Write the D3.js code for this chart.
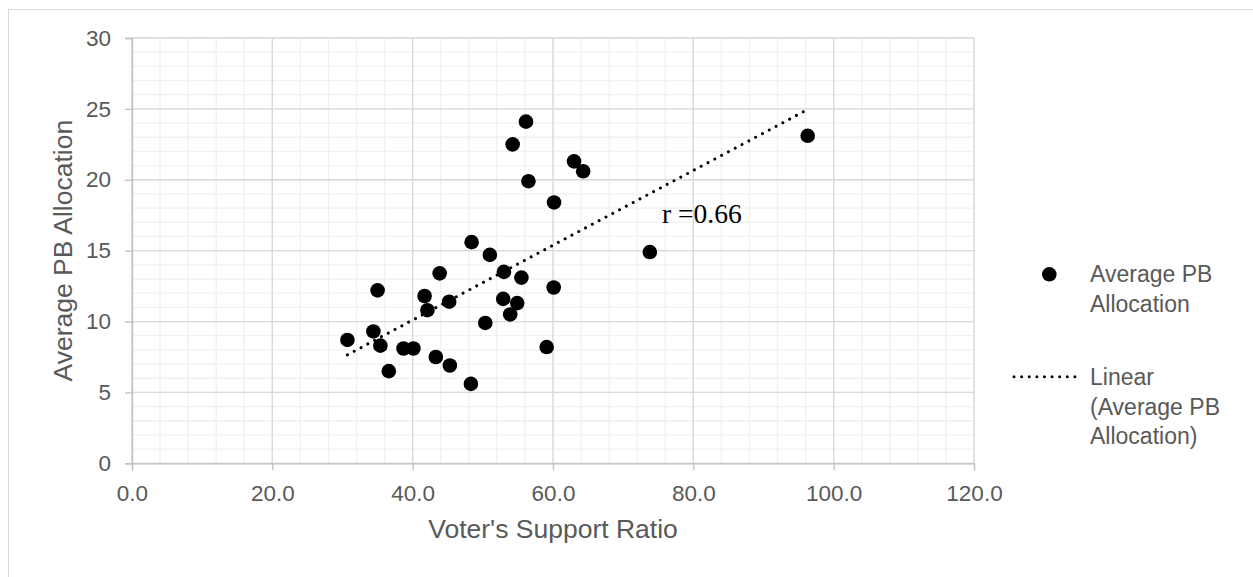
<!DOCTYPE html>
<html>
<head>
<meta charset="utf-8">
<script src="https://cdn.jsdelivr.net/npm/d3@7"></script>
<style>
  body { margin: 0; background: #fff; }
  text { font-family: "Liberation Sans", Arial, sans-serif; }
</style>
</head>
<body>
<div id="chart"></div>
<script>
// voter's support ratio (x) and average PB allocation (y)
const supportRatio = [48.4, 51.0, 53.0, 55.5, 43.85, 35.0, 60.1, 41.7, 45.2, 52.9, 54.9, 42.1,
    53.9, 50.35, 34.4, 30.7, 35.4, 38.7, 40.1, 59.1, 43.3, 45.3, 36.6, 48.3,
    56.15, 54.25, 56.5, 63.0, 64.3, 60.15, 96.3, 73.8];
const pbAllocation = [15.6, 14.7, 13.5, 13.1, 13.4, 12.2, 12.4, 11.8, 11.4, 11.6, 11.3, 10.8,
    10.5, 9.9, 9.3, 8.7, 8.3, 8.1, 8.1, 8.2, 7.5, 6.9, 6.5, 5.6,
    24.1, 22.5, 19.9, 21.3, 20.6, 18.4, 23.1, 14.9];
const xTicks = [0, 20, 40, 60, 80, 100, 120];
const yTicks = [0, 5, 10, 15, 20, 25, 30];
const legendLabels = [["Average PB", "Allocation"], ["Linear", "(Average PB", "Allocation)"]];
const rLabel = "r =0.66";

function renderScatter() {
    const width = 1253;
    const height = 577;
    const margin = { top: 38, left: 132 };
    const plotW = 842;
    const plotH = 425.3;
    const grey = '#595959';

    const points = supportRatio.map((x, i) => ({ x: x, y: pbAllocation[i] }));

    const svg = d3.select('#chart')
        .append('svg')
        .attr('width', width)
        .attr('height', height);

    // outer chart frame (runs off the right and bottom edges)
    svg.append('rect')
        .attr('x', 8.5).attr('y', 9.5)
        .attr('width', 1300).attr('height', 700)
        .attr('fill', 'none')
        .attr('stroke', '#d9d9d9');

    const xScale = d3.scaleLinear().domain([0, 120]).range([0, plotW]);
    const yScale = d3.scaleLinear().domain([0, 30]).range([plotH, 0]);

    const g = svg.append('g')
        .attr('transform', `translate(${margin.left}, ${margin.top})`);

    // minor grid
    g.append('g').selectAll('line')
        .data(d3.range(0, 121, 4))
        .join('line')
        .attr('x1', d => xScale(d)).attr('x2', d => xScale(d))
        .attr('y1', 0).attr('y2', plotH)
        .attr('stroke', '#f0f0f0').attr('stroke-width', 1.3);
    g.append('g').selectAll('line')
        .data(d3.range(0, 31, 1))
        .join('line')
        .attr('x1', 0).attr('x2', plotW)
        .attr('y1', d => yScale(d)).attr('y2', d => yScale(d))
        .attr('stroke', '#f0f0f0').attr('stroke-width', 1.3);

    // major grid
    g.append('g').selectAll('line')
        .data(xTicks)
        .join('line')
        .attr('x1', d => xScale(d)).attr('x2', d => xScale(d))
        .attr('y1', 0).attr('y2', plotH)
        .attr('stroke', '#d9d9d9').attr('stroke-width', 1.3);
    g.append('g').selectAll('line')
        .data(yTicks)
        .join('line')
        .attr('x1', 0).attr('x2', plotW)
        .attr('y1', d => yScale(d)).attr('y2', d => yScale(d))
        .attr('stroke', '#d9d9d9').attr('stroke-width', 1.3);

    // axes
    const xAxis = g.append('g')
        .attr('transform', `translate(0, ${plotH})`)
        .call(d3.axisBottom(xScale).tickValues(xTicks).tickFormat(d3.format('.1f')).tickSize(7).tickPadding(15));
    const yAxis = g.append('g')
        .call(d3.axisLeft(yScale).tickValues(yTicks).tickFormat(d3.format('d')).tickSize(7).tickPadding(14));
    [xAxis, yAxis].forEach(ax => {
        ax.select('.domain').attr('stroke', '#bfbfbf').attr('stroke-width', 1.3);
        ax.selectAll('.tick line').attr('stroke', '#bfbfbf').attr('stroke-width', 1.3);
        ax.selectAll('.tick text')
            .attr('fill', grey)
            .style('font-size', '22.5px')
            .style('font-family', '"Liberation Sans", Arial, sans-serif');
    });

    // axis titles
    svg.append('text')
        .attr('x', margin.left + plotW / 2)
        .attr('y', 538)
        .attr('text-anchor', 'middle')
        .attr('fill', grey)
        .style('font-size', '26.5px')
        .text("Voter's Support Ratio");
    svg.append('text')
        .attr('transform', `translate(72, ${margin.top + plotH / 2}) rotate(-90)`)
        .attr('text-anchor', 'middle')
        .attr('fill', grey)
        .style('font-size', '26.5px')
        .text('Average PB Allocation');

    // linear trendline, least squares over the points
    const mx = d3.mean(points, d => d.x);
    const my = d3.mean(points, d => d.y);
    const slope = d3.sum(points, d => (d.x - mx) * (d.y - my)) / d3.sum(points, d => (d.x - mx) ** 2);
    const icpt = my - slope * mx;
    const ext = d3.extent(points, d => d.x);
    const trend = ext.map(x => ({ x: x, y: icpt + slope * x }));

    const line = d3.line()
        .x(d => xScale(d.x))
        .y(d => yScale(d.y));

    g.append('path')
        .datum(trend)
        .attr('fill', 'none')
        .attr('stroke', '#000')
        .attr('stroke-width', 3)
        .attr('stroke-linecap', 'round')
        .attr('stroke-dasharray', '0.01 7.7')
        .attr('d', line);

    g.append('g').selectAll('circle')
        .data(points)
        .join('circle')
        .attr('cx', d => xScale(d.x))
        .attr('cy', d => yScale(d.y))
        .attr('r', 7.3)
        .attr('fill', '#000');

    svg.append('text')
        .attr('x', 662)
        .attr('y', 222.7)
        .attr('fill', '#000')
        .style('font-family', '"Liberation Serif", "Times New Roman", serif')
        .style('font-size', '27.5px')
        .text(rLabel);

    // legend
    const legend = svg.append('g');
    legend.append('circle')
        .attr('cx', 1049.3).attr('cy', 274.3).attr('r', 7.3).attr('fill', '#000');
    legend.append('line')
        .attr('x1', 1014).attr('x2', 1075)
        .attr('y1', 376.7).attr('y2', 376.7)
        .attr('stroke', '#000')
        .attr('stroke-width', 3)
        .attr('stroke-linecap', 'round')
        .attr('stroke-dasharray', '0.01 7.6');
    const firstBaseline = [282, 385];
    legendLabels.forEach((lines, i) => {
        const t = legend.append('text')
            .attr('x', 1090)
            .attr('y', firstBaseline[i])
            .attr('fill', grey)
            .style('font-size', '23px');
        lines.forEach((s, j) => {
            t.append('tspan')
                .attr('x', 1090)
                .attr('dy', j === 0 ? 0 : 29.5)
                .text(s);
        });
    });
}

renderScatter();
</script>
</body>
</html>
